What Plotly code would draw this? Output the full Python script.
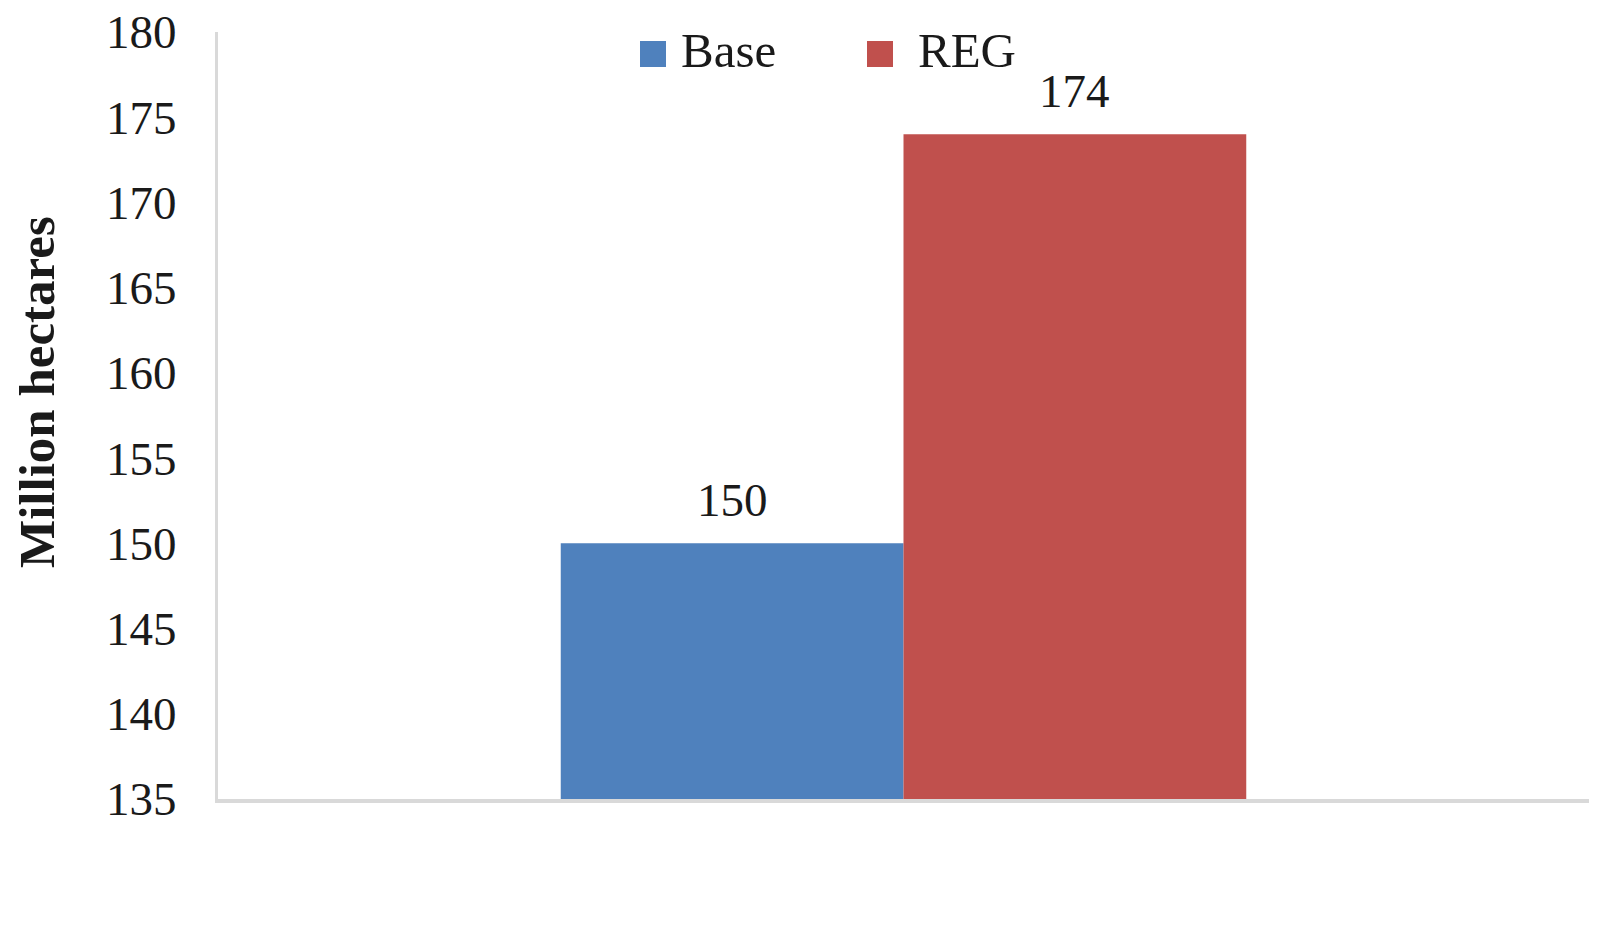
import plotly.graph_objects as go

# Land area by scenario (million hectares)
categories = [""]
series_names = ["Base", "REG"]
base_values = [150]
reg_values = [174]
series_colors = ["#4F81BD", "#C0504D"]
y_ticks = [135, 140, 145, 150, 155, 160, 165, 170, 175, 180]

W, H = 1614, 937
L, R, T, B = 218, 25, 32, 138
plot_w = W - L - R
plot_h = H - T - B

FONT = "Liberation Serif, Times New Roman, serif"
AXIS_GREY = "#d9d9d9"


def px_x(px):
    return (px - L) / plot_w


def px_y(py):
    return (H - B - py) / plot_h


fig = go.Figure()

# Two bars side by side within the single category slot
fig.add_trace(go.Bar(
    x=categories, y=base_values, name=series_names[0],
    marker=dict(color=series_colors[0], line=dict(width=0)),
    offset=-0.25, width=0.25, showlegend=False,
))
fig.add_trace(go.Bar(
    x=categories, y=reg_values, name=series_names[1],
    marker=dict(color=series_colors[1], line=dict(width=0)),
    offset=0.0, width=0.25, showlegend=False,
))

# Value labels above each bar
for xpos, val in [(-0.125, base_values[0]), (0.125, reg_values[0])]:
    fig.add_annotation(
        x=xpos, y=val, xref="x", yref="y", text=str(val),
        showarrow=False, xanchor="center", yanchor="bottom", yshift=15,
        font=dict(family=FONT, size=47, color="#1a1a1a"),
    )

# Legend: coloured squares with labels, centred at the top of the plot
legend_items = [(640, series_names[0], series_colors[0], 679),
                (867, series_names[1], series_colors[1], 916)]
for sq_left, label, color, text_left in legend_items:
    fig.add_shape(
        type="rect", xref="paper", yref="paper",
        x0=px_x(sq_left), x1=px_x(sq_left + 26),
        y0=px_y(67), y1=px_y(41),
        fillcolor=color, line=dict(width=0), layer="above",
    )
    fig.add_annotation(
        x=px_x(text_left), y=px_y(50), xref="paper", yref="paper",
        text=label, showarrow=False, xanchor="left", yanchor="middle",
        font=dict(family=FONT, size=49, color="#1a1a1a"),
    )

# Y-axis title
fig.add_annotation(
    x=px_x(37), y=px_y(392), xref="paper", yref="paper",
    text="<b>Million hectares</b>", textangle=-90, showarrow=False,
    xanchor="center", yanchor="middle",
    font=dict(family=FONT, size=51, color="#1a1a1a"),
)

fig.update_layout(
    width=W, height=H,
    margin=dict(l=L, r=R, t=T, b=B, pad=0),
    paper_bgcolor="white", plot_bgcolor="white",
    barmode="overlay",
    showlegend=False,
    xaxis=dict(
        type="category", range=[-0.5, 0.5], automargin=False,
        showticklabels=False, ticks="", showgrid=False, zeroline=False,
        showline=True, linecolor=AXIS_GREY, linewidth=4,
        fixedrange=True,
    ),
    yaxis=dict(
        range=[135, 180], tickmode="array", tickvals=y_ticks,
        ticktext=[str(t) for t in y_ticks], automargin=False,
        showgrid=False, zeroline=False, ticks="",
        ticklabelstandoff=29,
        showline=True, linecolor=AXIS_GREY, linewidth=3,
        tickfont=dict(family=FONT, size=47, color="#1a1a1a"),
        fixedrange=True,
    ),
)

fig.write_html("out.html", config={"displayModeBar": False})
